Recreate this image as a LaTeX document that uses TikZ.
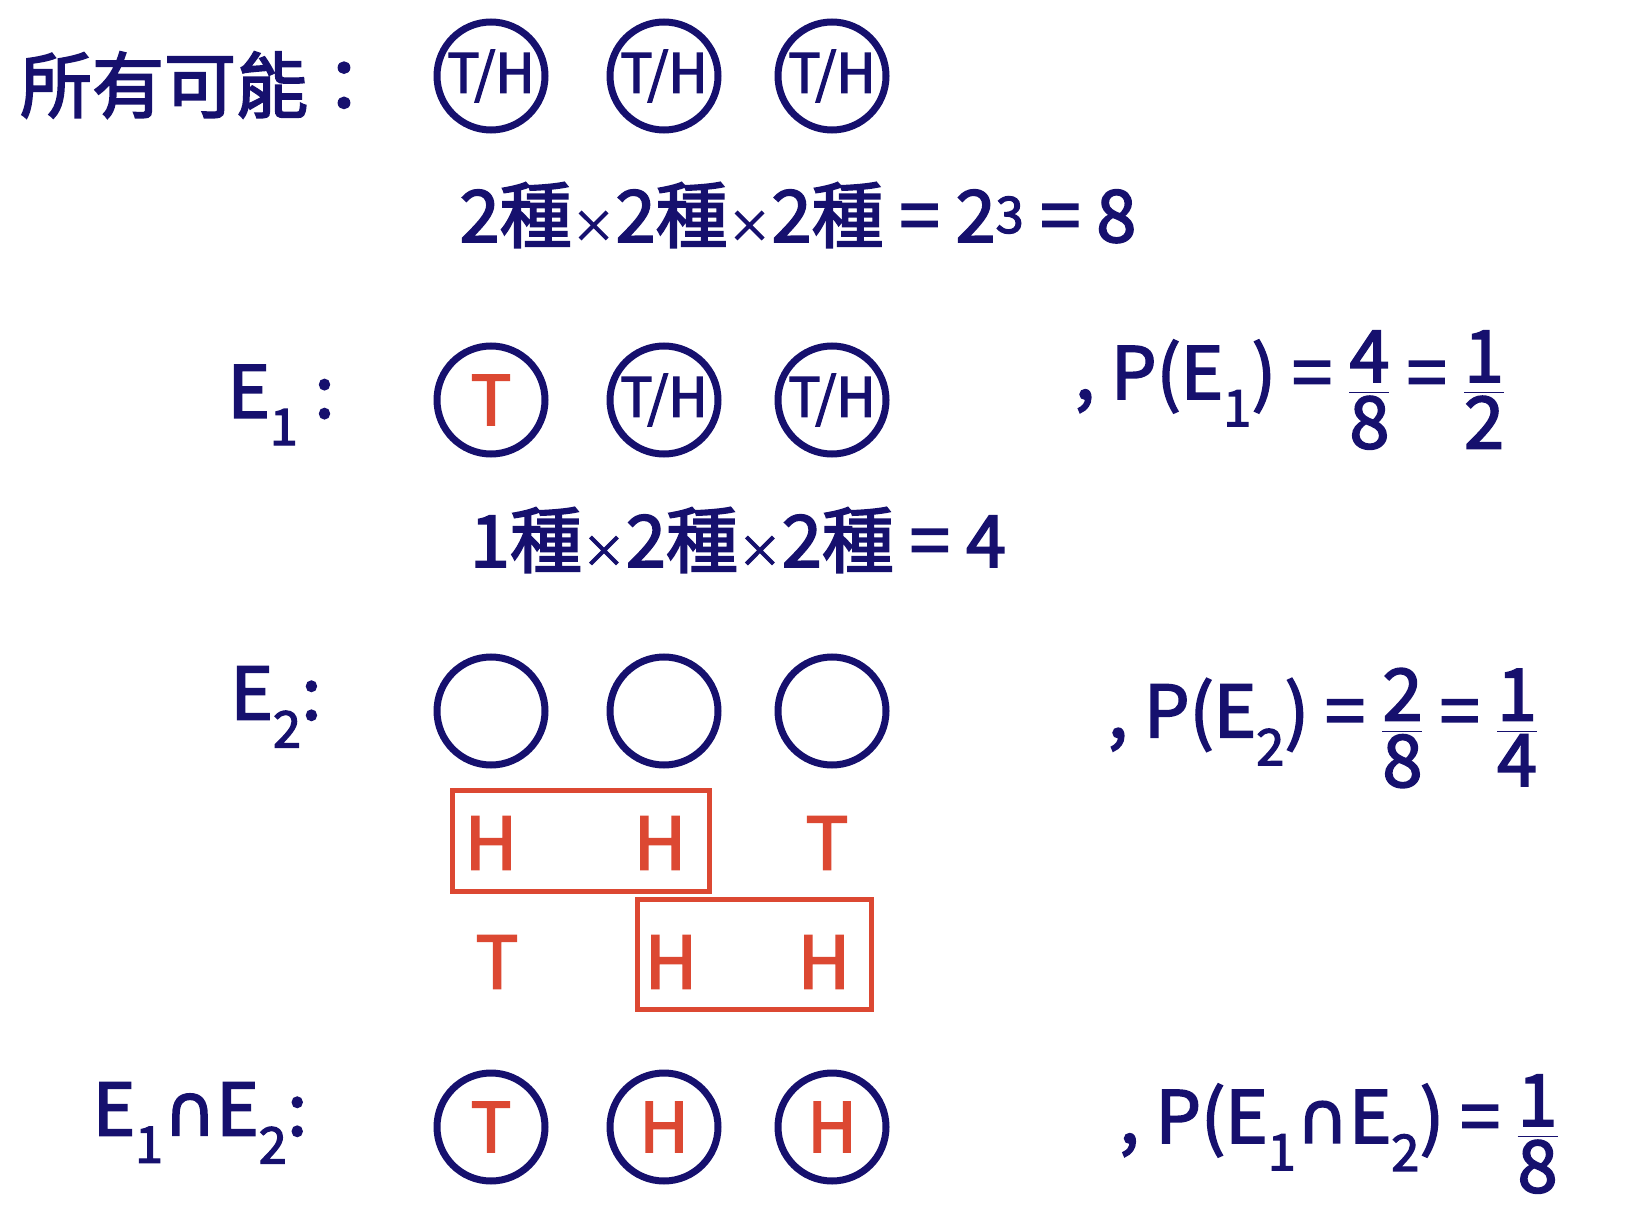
\documentclass[tikz,border=0pt]{standalone}
\usepackage{amsmath}
\usepackage{fontspec}
\setmainfont{Noto Sans CJK TC}[FakeBold=2.5]
\newfontfamily\symfont{DejaVu Sans}[FakeBold=2]
\newcommand\capsym{{\symfont ∩}}
\newcommand\tms{{\fontsize{44}{44}\selectfont ×}}
\definecolor{ink}{RGB}{22,16,110}
\definecolor{pen}{RGB}{220,72,50}
\tikzset{
  coin/.style={circle, draw=ink, line width=7pt, minimum size=108pt, inner sep=0pt,
    font=\fontsize{54}{54}\selectfont},
  pick/.style={coin, text=pen, font=\fontsize{68}{68}\selectfont},
  say/.style={text=ink, inner sep=0pt, font=\fontsize{72}{78}\selectfont},
  side/.style={pen, line width=5pt},
}
\begin{document}
\begin{tikzpicture}[x=1pt, y=-1pt]
    \useasboundingbox[fill=white] (0,0) rectangle (1631,1230);
    % all outcomes
    \node[say] (all) at (200,85) {所有可能：};
    \node[coin, text=ink] (a1) at (491,76) {T/H};
    \node[coin, text=ink] (a2) at (664,76) {T/H};
    \node[coin, text=ink] (a3) at (832,76) {T/H};
    \node[say] (alln) at (798,215) {2種\tms2種\tms2種 = 2\textsuperscript{3} = 8};
    % E1
    \node[say] (e1) at (281,405) {E\textsubscript{1} :};
    \node[pick] (b1) at (491,400) {T};
    \node[coin, text=ink] (b2) at (664,400) {T/H};
    \node[coin, text=ink] (b3) at (832,400) {T/H};
    \node[say] (e1n) at (738,540) {1種\tms2種\tms2種 = 4};
    \node[say] (pe1) at (1290,390) {, P(E\textsubscript{1}) = $\dfrac{\text{4}}{\text{8}}$ = $\dfrac{\text{1}}{\text{2}}$};
    % E2
    \node[say] (e2) at (276,707) {E\textsubscript{2}:};
    \node[coin] (c1) at (491,711) {};
    \node[coin] (c2) at (664,711) {};
    \node[coin] (c3) at (832,711) {};
    \node[say, text=pen] (h11) at (491,843) {H};
    \node[say, text=pen] (h12) at (660,843) {H};
    \node[say, text=pen] (t13) at (827,843) {T};
    \node[say, text=pen] (t21) at (497,962) {T};
    \node[say, text=pen] (h22) at (671,962) {H};
    \node[say, text=pen] (h23) at (824,962) {H};
    \draw[side] (452,790) rectangle (709,891);
    \draw[side] (637,899) rectangle (871,1009);
    \node[say] (pe2) at (1323,728) {, P(E\textsubscript{2}) = $\dfrac{\text{2}}{\text{8}}$ = $\dfrac{\text{1}}{\text{4}}$};
    % E1 and E2
    \node[say] (e12) at (200,1123) {E\textsubscript{1}\capsym E\textsubscript{2}:};
    \node[pick] (d1) at (491,1127) {T};
    \node[pick] (d2) at (664,1127) {H};
    \node[pick] (d3) at (832,1127) {H};
    \node[say] (pe12) at (1339,1134) {, P(E\textsubscript{1}\capsym E\textsubscript{2}) = $\dfrac{\text{1}}{\text{8}}$};
\end{tikzpicture}
\end{document}
